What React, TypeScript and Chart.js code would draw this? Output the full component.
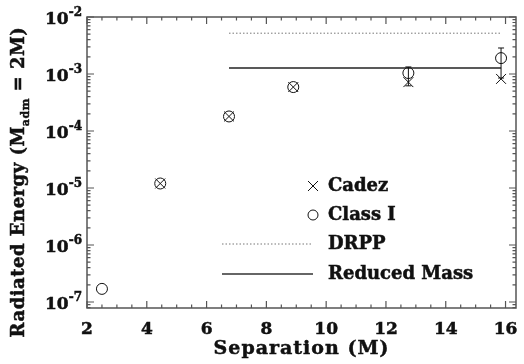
import React, { useEffect, useRef } from 'react';
import { Chart, registerables } from 'chart.js';

Chart.register(...registerables);

// ---- data ----
const cadezSeparation = [4.45, 6.75, 8.9, 12.75, 15.85];
const cadezEnergy = [1.2e-5, 1.8e-4, 5.9e-4, 7.2e-4, 8.2e-4];

const classISeparation = [2.5, 4.45, 6.75, 8.9, 12.75, 15.85];
const classIEnergy = [1.7e-7, 1.2e-5, 1.8e-4, 5.9e-4, 1.04e-3, 1.9e-3];
const classIErrLow = [null, null, null, null, 6.2e-4, 8.5e-4];
const classIErrHigh = [null, null, null, null, 1.33e-3, 2.86e-3];

const drppSeparation = [6.75, 15.85];
const drppEnergy = [5.2e-3, 5.2e-3];

const reducedSeparation = [6.75, 15.85];
const reducedEnergy = [1.27e-3, 1.27e-3];

const xTickValues = [2, 4, 6, 8, 10, 12, 14, 16];
const yTickExponents = [-2, -3, -4, -5, -6, -7];

const legendLabels = ['Cadez', 'Class I', 'DRPP', 'Reduced Mass'];
const xTitle = 'Separation (M)';
const yTitleMain = 'Radiated Energy (M';
const yTitleSub = 'adm';
const yTitleEnd = ' = 2M)';

const FONT = '"DejaVu Serif", serif';
const INK = '#111';
const AXIS = '#555';

function zip(xs: number[], ys: number[]) {
  return xs.map((x, i) => ({ x, y: ys[i] }));
}

function heavyText(ctx: any, t: string, x: number, y: number) {
  ctx.fillText(t, x, y);
  ctx.strokeText(t, x, y);
}

const decorPlugin = {
  id: 'decor',
  afterDatasetsDraw(chart: any) {
    const ctx = chart.ctx;
    const xs = chart.scales.x;
    const ys = chart.scales.y;
    ctx.save();
    ctx.strokeStyle = INK;
    ctx.lineWidth = 1;
    classISeparation.forEach((sx, i) => {
      const lo = classIErrLow[i];
      const hi = classIErrHigh[i];
      if (lo == null || hi == null) return;
      const px = xs.getPixelForValue(sx);
      const pLo = ys.getPixelForValue(lo);
      const pHi = ys.getPixelForValue(hi);
      ctx.beginPath();
      ctx.moveTo(px, pLo);
      ctx.lineTo(px, pHi);
      ctx.moveTo(px - 3, pLo);
      ctx.lineTo(px + 3, pLo);
      ctx.moveTo(px - 3, pHi);
      ctx.lineTo(px + 3, pHi);
      ctx.stroke();
    });
    ctx.restore();
  },
  afterDraw(chart: any) {
    const ctx = chart.ctx;
    const { left, right, top, bottom } = chart.chartArea;
    const xs = chart.scales.x;
    const ys = chart.scales.y;
    ctx.save();
    // frame
    ctx.strokeStyle = AXIS;
    ctx.lineWidth = 1.5;
    ctx.strokeRect(left, top, right - left, bottom - top);

    // x ticks
    ctx.lineWidth = 1.2;
    ctx.beginPath();
    for (let v = xs.min; v <= xs.max + 1e-9; v += 0.5) {
      const px = xs.getPixelForValue(v);
      const major = Math.abs(v / 2 - Math.round(v / 2)) < 1e-6;
      const len = major ? 7 : 3.5;
      ctx.moveTo(px, bottom);
      ctx.lineTo(px, bottom - len);
      ctx.moveTo(px, top);
      ctx.lineTo(px, top + len);
    }
    // y ticks
    const lmin = Math.log10(ys.min);
    const lmax = Math.log10(ys.max);
    for (let e = Math.floor(lmin); e <= Math.ceil(lmax); e++) {
      for (let k = 1; k <= 9; k++) {
        const v = k * Math.pow(10, e);
        const lv = Math.log10(v);
        if (lv < lmin - 1e-9 || lv > lmax + 1e-9) continue;
        const py = ys.getPixelForValue(v);
        const len = k === 1 ? 7 : 3.5;
        ctx.moveTo(left, py);
        ctx.lineTo(left + len, py);
        ctx.moveTo(right, py);
        ctx.lineTo(right - len, py);
      }
    }
    ctx.stroke();

    ctx.fillStyle = INK;
    ctx.strokeStyle = INK;
    ctx.lineWidth = 0.5;

    // x tick labels
    ctx.font = `bold 17px ${FONT}`;
    ctx.textAlign = 'center';
    ctx.textBaseline = 'middle';
    xTickValues.forEach((v) => {
      heavyText(ctx, String(v), xs.getPixelForValue(v), 330);
    });

    // y tick labels 10^e
    yTickExponents.forEach((e) => {
      const py = ys.getPixelForValue(Math.pow(10, e));
      ctx.font = `bold 12px ${FONT}`;
      const sup = '-' + String(-e);
      const supW = ctx.measureText(sup).width;
      ctx.textAlign = 'right';
      ctx.textBaseline = 'alphabetic';
      heavyText(ctx, sup, 82, py - 1);
      ctx.font = `bold 17px ${FONT}`;
      heavyText(ctx, '10', 82 - supW, py + 7);
    });

    // x title
    ctx.font = `bold 19px ${FONT}`;
    (ctx as any).letterSpacing = '1px';
    ctx.textAlign = 'center';
    ctx.textBaseline = 'middle';
    heavyText(ctx, xTitle, (left + right) / 2, 349);

    // y title (rotated, with subscript)
    ctx.save();
    ctx.translate(19, 182);
    ctx.rotate(-Math.PI / 2);
    ctx.textAlign = 'left';
    ctx.textBaseline = 'middle';
    (ctx as any).letterSpacing = '0.5px';
    ctx.font = `bold 18px ${FONT}`;
    const w1 = ctx.measureText(yTitleMain).width;
    const w3 = ctx.measureText(yTitleEnd).width;
    ctx.font = `bold 11px ${FONT}`;
    const w2 = ctx.measureText(yTitleSub).width;
    const total = w1 + w2 + w3;
    let cx = -total / 2;
    ctx.font = `bold 18px ${FONT}`;
    heavyText(ctx, yTitleMain, cx, 0);
    cx += w1;
    ctx.font = `bold 11px ${FONT}`;
    heavyText(ctx, yTitleSub, cx, 7);
    cx += w2;
    ctx.font = `bold 18px ${FONT}`;
    heavyText(ctx, yTitleEnd, cx, 0);
    ctx.restore();
    (ctx as any).letterSpacing = '0px';

    // legend
    const lx = 313;
    const textX = 328;
    const rows = [186, 215, 244, 274];
    ctx.strokeStyle = INK;
    ctx.lineWidth = 1;
    ctx.beginPath();
    ctx.moveTo(lx - 5, rows[0] - 5);
    ctx.lineTo(lx + 5, rows[0] + 5);
    ctx.moveTo(lx - 5, rows[0] + 5);
    ctx.lineTo(lx + 5, rows[0] - 5);
    ctx.stroke();
    ctx.beginPath();
    ctx.arc(lx, rows[1], 5, 0, Math.PI * 2);
    ctx.stroke();
    ctx.strokeStyle = '#777';
    ctx.setLineDash([1.5, 2]);
    ctx.beginPath();
    ctx.moveTo(222, rows[2]);
    ctx.lineTo(313, rows[2]);
    ctx.stroke();
    ctx.setLineDash([]);
    ctx.strokeStyle = '#333';
    ctx.lineWidth = 1.5;
    ctx.beginPath();
    ctx.moveTo(222, rows[3]);
    ctx.lineTo(313, rows[3]);
    ctx.stroke();
    ctx.fillStyle = INK;
    ctx.strokeStyle = INK;
    ctx.lineWidth = 0.5;
    ctx.font = `bold 18px ${FONT}`;
    ctx.textAlign = 'left';
    ctx.textBaseline = 'middle';
    legendLabels.forEach((t, i) => heavyText(ctx, t, textX, rows[i]));
    ctx.restore();
  },
};

export default function App() {
  const ref = useRef<HTMLCanvasElement | null>(null);
  useEffect(() => {
    document.body.style.margin = '0';
    const canvas = ref.current;
    if (!canvas) return;
    const chart = new Chart(canvas, {
      type: 'scatter',
      data: {
        datasets: [
          {
            label: legendLabels[2],
            data: zip(drppSeparation, drppEnergy),
            showLine: true,
            borderColor: '#777',
            borderWidth: 1,
            borderDash: [1.5, 2],
            pointRadius: 0,
          },
          {
            label: legendLabels[3],
            data: zip(reducedSeparation, reducedEnergy),
            showLine: true,
            borderColor: '#222',
            borderWidth: 1.5,
            pointRadius: 0,
          },
          {
            label: legendLabels[0],
            data: zip(cadezSeparation, cadezEnergy),
            pointStyle: 'crossRot',
            pointRadius: 7,
            borderColor: INK,
            borderWidth: 1,
            backgroundColor: 'rgba(0,0,0,0)',
          },
          {
            label: legendLabels[1],
            data: zip(classISeparation, classIEnergy),
            pointStyle: 'circle',
            pointRadius: 5.5,
            borderColor: INK,
            borderWidth: 1,
            backgroundColor: 'rgba(0,0,0,0)',
          },
        ],
      } as any,
      options: {
        responsive: false,
        animation: false,
        devicePixelRatio: 1,
        layout: { padding: { left: 87, right: 5, top: 17, bottom: 56 } },
        plugins: { legend: { display: false }, tooltip: { enabled: false } },
        scales: {
          x: {
            type: 'linear',
            min: 2,
            max: 16.35,
            grid: { display: false, drawTicks: false },
            border: { display: false },
            ticks: { display: false },
          },
          y: {
            type: 'logarithmic',
            min: Math.pow(10, -7.105),
            max: 1e-2,
            grid: { display: false, drawTicks: false },
            border: { display: false },
            ticks: { display: false },
          },
        },
      } as any,
      plugins: [decorPlugin],
    });
    return () => chart.destroy();
  }, []);
  return (
    <div style={{ width: 524, height: 364 }}>
      <canvas ref={ref} width={524} height={364} style={{ display: 'block' }} />
    </div>
  );
}
